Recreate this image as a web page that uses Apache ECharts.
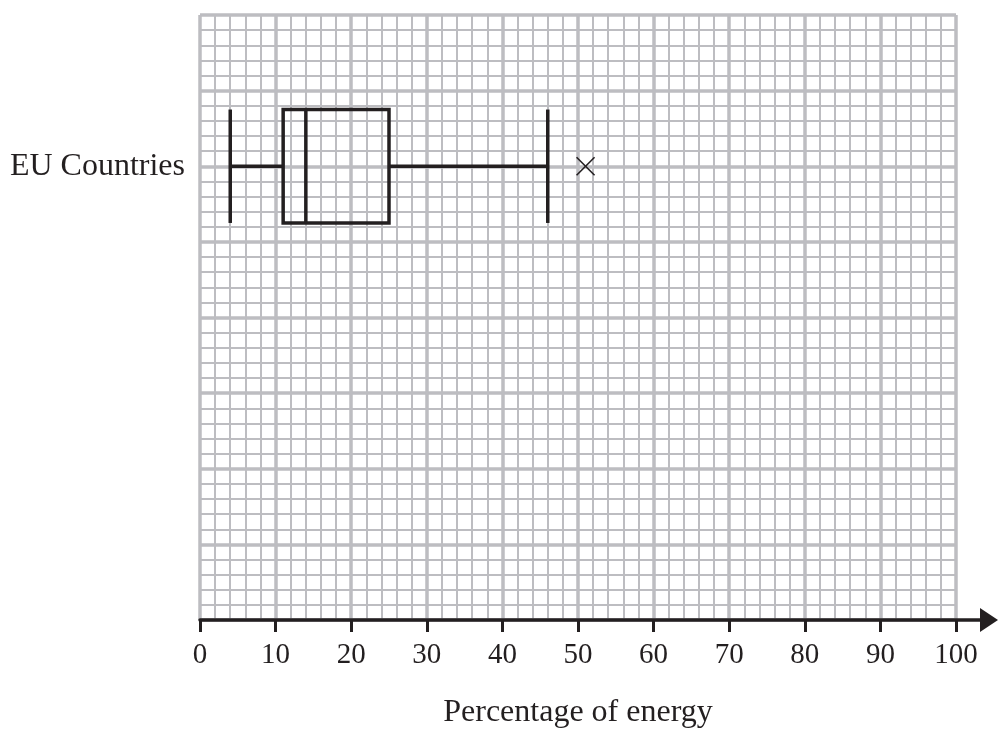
<!DOCTYPE html>
<html>
<head>
<meta charset="utf-8">
<script src="https://cdn.jsdelivr.net/npm/echarts@6/dist/echarts.min.js"></script>
<style>
html,body{margin:0;padding:0;background:#fff;}
#chart{width:998px;height:729px;}
</style>
</head>
<body>
<div id="chart"></div>
<script>
// ---- data ----
const categories = ['EU Countries'];
const categoryRow = [60];          // vertical position of each box on the squared grid
const minimum = [4];
const lowerQuartile = [11];
const median = [14];
const upperQuartile = [25];
const maximum = [46];
const outliers = [[51]];
const xTickValues = [0, 10, 20, 30, 40, 50, 60, 70, 80, 90, 100];
const xAxisTitle = 'Percentage of energy';

const INK = '#231f20';
const GRIDC = '#bdbdc1';
const FONT = '"Liberation Serif", "Times New Roman", serif';

const boxData = categories.map((c, i) => [categoryRow[i], minimum[i], lowerQuartile[i], median[i], upperQuartile[i], maximum[i]]);
const outlierData = [];
outliers.forEach((arr, i) => arr.forEach(v => outlierData.push([v, categoryRow[i]])));

const chart = echarts.init(document.getElementById('chart'), null, {renderer: 'canvas'});

const HALF = 7.5; // half box height in y units
const LW = 3.5;

chart.setOption({
  animation: false,
  backgroundColor: '#fff',
  grid: [
    {left: 200, right: 42, top: 15, bottom: 109, containLabel: false, outerBoundsMode: 'none'},
    {left: 200, right: 9, top: 15, bottom: 109, containLabel: false, outerBoundsMode: 'none'}
  ],
  xAxis: [
    {
      gridIndex: 0, type: 'value', min: 0, max: 100, interval: 10,
      axisLine: {show: false},
      axisTick: {show: true, length: 12, lineStyle: {color: INK, width: 3}},
      axisLabel: {show: true, margin: 21, fontFamily: FONT, fontSize: 29, color: INK,
        formatter: v => xTickValues.indexOf(v) >= 0 ? String(v) : ''},
      splitLine: {show: true, lineStyle: {color: GRIDC, width: 3.5}},
      minorTick: {show: false, splitNumber: 5},
      minorSplitLine: {show: true, lineStyle: {color: GRIDC, width: 2}},
      name: xAxisTitle, nameLocation: 'middle', nameGap: 77,
      nameTextStyle: {fontFamily: FONT, fontSize: 32, color: INK}
    },
    {
      gridIndex: 1, type: 'value', min: 0, max: 104.4, z: 10,
      axisLine: {show: true, symbol: ['none', 'triangle'], symbolSize: [24, 18], lineStyle: {color: INK, width: 3.5}},
      axisTick: {show: false}, axisLabel: {show: false}, splitLine: {show: false}
    }
  ],
  yAxis: [
    {
      gridIndex: 0, type: 'value', min: 0, max: 80, interval: 10,
      axisLine: {show: false}, axisTick: {show: false},
      axisLabel: {show: true, margin: 15, fontFamily: FONT, fontSize: 32, color: INK,
        padding: [4, 0, 0, 0],
        formatter: v => { const k = categoryRow.indexOf(v); return k >= 0 ? categories[k] : ''; }},
      splitLine: {show: true, lineStyle: {color: GRIDC, width: 3.5}},
      minorTick: {show: false, splitNumber: 5},
      minorSplitLine: {show: true, lineStyle: {color: GRIDC, width: 2}}
    },
    {
      gridIndex: 1, type: 'value', min: 0, max: 80, show: false
    }
  ],
  series: [
    {
      type: 'custom',
      xAxisIndex: 0, yAxisIndex: 0,
      z: 5,
      data: boxData,
      renderItem: function (params, api) {
        const y = api.value(0);
        const mn = api.value(1), q1 = api.value(2), md = api.value(3), q3 = api.value(4), mx = api.value(5);
        const top = y + HALF, bot = y - HALF;
        const s = {stroke: INK, lineWidth: LW, fill: null};
        const P = (a, b) => api.coord([a, b]);
        const line = (p1, p2) => ({type: 'line', shape: {x1: p1[0], y1: p1[1], x2: p2[0], y2: p2[1]}, style: s});
        const a = P(q1, top), b = P(q3, bot);
        return {
          type: 'group',
          children: [
            line(P(mn, y), P(q1, y)),
            line(P(q3, y), P(mx, y)),
            line(P(mn, top), P(mn, bot)),
            line(P(mx, top), P(mx, bot)),
            {type: 'rect', shape: {x: a[0], y: a[1], width: b[0] - a[0], height: b[1] - a[1]}, style: {stroke: INK, lineWidth: LW, fill: null}},
            line(P(md, top), P(md, bot))
          ]
        };
      }
    },
    {
      type: 'custom',
      xAxisIndex: 0, yAxisIndex: 0,
      z: 5,
      data: outlierData,
      renderItem: function (params, api) {
        const p = api.coord([api.value(0), api.value(1)]);
        const r = 9;
        const s = {stroke: INK, lineWidth: 1.6, fill: null};
        return {
          type: 'group',
          children: [
            {type: 'line', shape: {x1: p[0] - r, y1: p[1] - r, x2: p[0] + r, y2: p[1] + r}, style: s},
            {type: 'line', shape: {x1: p[0] - r, y1: p[1] + r, x2: p[0] + r, y2: p[1] - r}, style: s}
          ]
        };
      }
    }
  ]
});
</script>
</body>
</html>
